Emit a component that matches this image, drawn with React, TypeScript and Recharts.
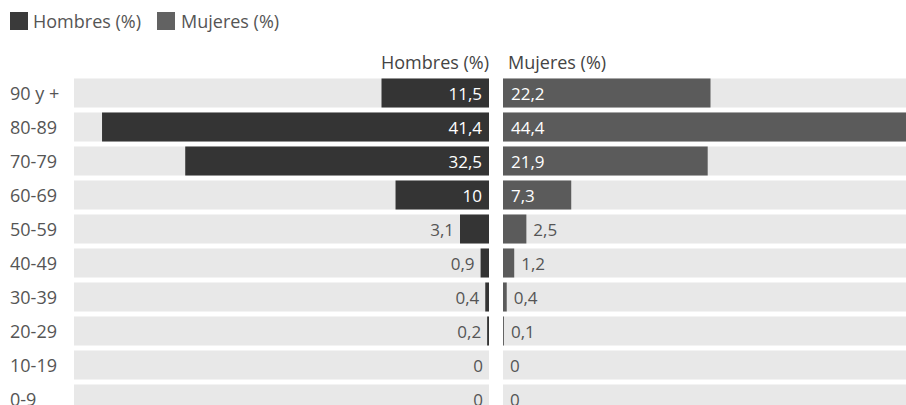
import React from 'react';
import { BarChart, Bar, XAxis, YAxis, LabelList } from 'recharts';

const ageGroups = ['90 y +', '80-89', '70-79', '60-69', '50-59', '40-49', '30-39', '20-29', '10-19', '0-9'];
const hombres = [11.5, 41.4, 32.5, 10, 3.1, 0.9, 0.4, 0.2, 0, 0];
const mujeres = [22.2, 44.4, 21.9, 7.3, 2.5, 1.2, 0.4, 0.1, 0, 0];
const maxValue = 44.4;

const data = ageGroups.map((g, i) => ({ group: g, hombres: hombres[i], mujeres: mujeres[i], full: maxValue }));

const FONT = '"Open Sans", sans-serif';
const FS = 18;
const LFS = 17;
const TEXT = '#555';
const MEN = '#343434';
const WOMEN = '#5b5b5b';
const BG = '#e8e8e8';

const fmt = (v: number) => String(v).replace('.', ',');

// Labels are attached to the full-width background bar; the value's end is taken from that bar's geometry.
const makeLabel = (side: 'left' | 'right', key: 'hombres' | 'mujeres') => (props: any) => {
  const { x, y, width, height, index } = props;
  const value = data[index][key];
  const l = Math.min(x, x + width);
  const r = Math.max(x, x + width);
  const full = r - l;
  const len = (value / maxValue) * full;
  const inside = value >= 5;
  if (side === 'left') {
    const end = r - len;
    return (
      <text
        x={inside ? r - 7 : end - 6}
        y={y + height / 2}
        textAnchor="end"
        dominantBaseline="central"
        fill={inside ? '#fff' : TEXT}
        fontSize={LFS}
        fontFamily={FONT}
      >
        {fmt(value)}
      </text>
    );
  }
  const end = l + len;
  return (
    <text
      x={inside ? l + 8 : end + 7}
      y={y + height / 2}
      textAnchor="start"
      dominantBaseline="central"
      fill={inside ? '#fff' : TEXT}
      fontSize={LFS}
      fontFamily={FONT}
    >
      {fmt(value)}
    </text>
  );
};

const LeftLabel = makeLabel('left', 'hombres');
const RightLabel = makeLabel('right', 'mujeres');

const CatTick = (props: any) => {
  const { y, payload } = props;
  return (
    <text x={10} y={y} textAnchor="start" dominantBaseline="central" fill={TEXT} fontSize={FS} fontFamily={FONT}>
      {payload.value}
    </text>
  );
};

export default function App() {
  return (
    <div
      style={{
        position: 'absolute',
        left: 0,
        top: 0,
        width: 906,
        height: 405,
        overflow: 'hidden',
        background: '#fff',
        fontFamily: FONT,
      }}
    >
      {/* Legend */}
      <div style={{ position: 'absolute', left: 10, top: 12, width: 18, height: 18, background: '#3a3a3a' }} />
      <div style={{ position: 'absolute', left: 33, top: 9, fontSize: FS, color: TEXT, lineHeight: '24px', whiteSpace: 'nowrap' }}>
        Hombres (%)
      </div>
      <div style={{ position: 'absolute', left: 157, top: 12, width: 18, height: 18, background: '#626262' }} />
      <div style={{ position: 'absolute', left: 181, top: 9, fontSize: FS, color: TEXT, lineHeight: '24px', whiteSpace: 'nowrap' }}>
        Mujeres (%)
      </div>

      {/* Headers */}
      <div
        style={{
          position: 'absolute',
          right: 906 - 489,
          top: 50,
          fontSize: FS,
          color: '#444',
          lineHeight: '24px',
          whiteSpace: 'nowrap',
        }}
      >
        Hombres (%)
      </div>
      <div style={{ position: 'absolute', left: 508, top: 50, fontSize: FS, color: '#444', lineHeight: '24px', whiteSpace: 'nowrap' }}>
        Mujeres (%)
      </div>

      {/* Left chart: Hombres */}
      <div style={{ position: 'absolute', left: 0, top: 0 }}>
        <BarChart
          width={490}
          height={430}
          data={data}
          layout="vertical"
          margin={{ top: 75.5, right: 1, bottom: 14.5, left: 0 }}
        >
          <XAxis type="number" domain={[0, maxValue]} reversed hide allowDataOverflow />
          <YAxis
            yAxisId="main"
            type="category"
            dataKey="group"
            width={74}
            axisLine={false}
            tickLine={false}
            tick={<CatTick />}
            interval={0}
          />
          <YAxis yAxisId="bg" type="category" dataKey="group" hide />
          <Bar yAxisId="bg" dataKey="full" fill={BG} barSize={29} isAnimationActive={false}>
            <LabelList dataKey="hombres" content={<LeftLabel />} />
          </Bar>
          <Bar yAxisId="main" dataKey="hombres" fill={MEN} barSize={29} isAnimationActive={false} />
        </BarChart>
      </div>

      {/* Right chart: Mujeres */}
      <div style={{ position: 'absolute', left: 503, top: 0 }}>
        <BarChart
          width={420}
          height={430}
          data={data}
          layout="vertical"
          margin={{ top: 75.5, right: 5, bottom: 14.5, left: 0 }}
        >
          <XAxis type="number" domain={[0, maxValue]} hide allowDataOverflow />
          <YAxis yAxisId="main" type="category" dataKey="group" hide />
          <YAxis yAxisId="bg" type="category" dataKey="group" hide />
          <Bar yAxisId="bg" dataKey="full" fill={BG} barSize={29} isAnimationActive={false}>
            <LabelList dataKey="mujeres" content={<RightLabel />} />
          </Bar>
          <Bar yAxisId="main" dataKey="mujeres" fill={WOMEN} barSize={29} isAnimationActive={false} />
        </BarChart>
      </div>
    </div>
  );
}
